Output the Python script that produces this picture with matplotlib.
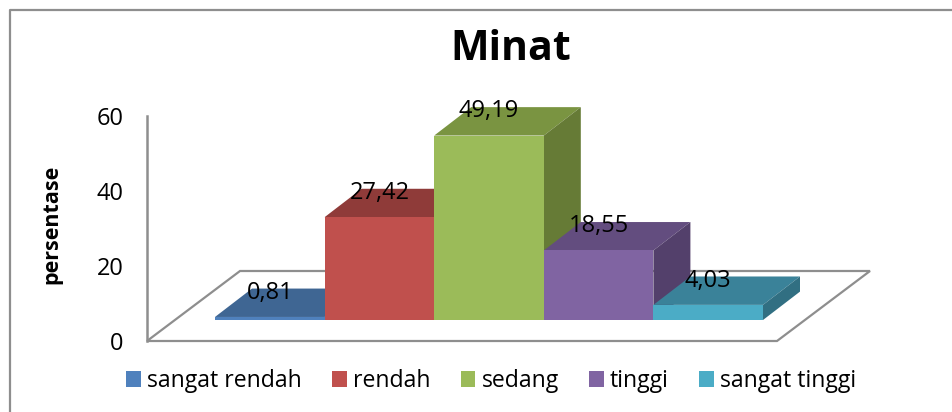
import numpy as np
import matplotlib.pyplot as plt
from matplotlib.lines import Line2D
from matplotlib.patches import Patch, Polygon

CATEGORIES = ["sangat rendah", "rendah", "sedang", "tinggi", "sangat tinggi"]
VALUES = [0.81, 27.42, 49.19, 18.55, 4.03]
VALUE_LABELS = ["0,81", "27,42", "49,19", "18,55", "4,03"]
Y_TICKS = [0, 20, 40, 60]

FRONT = ["#4F81BD", "#C0504D", "#9BBB59", "#8064A2", "#4BACC6"]
TOP = ["#3F6693", "#8F3B39", "#7A9441", "#634D7F", "#3A8299"]
SIDE = ["#35567C", "#7A3230", "#667B36", "#53406B", "#316F82"]
GREY = "#8E8E8E"

W, H = 952, 412
plt.rcParams["font.family"] = ["Open Sans", "DejaVu Sans"]

fig = plt.figure(figsize=(W / 100, H / 100), dpi=100)

# axes box in pixels: value axis runs 116..341, floor runs to x=870
ax = fig.add_axes([147 / W, 1 - 341 / H, (870 - 147) / W, 225 / H])
ax.set_xlim((147 - 215) / 109.6, (870 - 215) / 109.6)
ax.set_ylim(0, 60)

# fake 3d offsets, in data units
depth_x = 37 / 109.6
depth_y = 28.4 / 3.75
base = 21 / 3.75
floor_dx = 93 / 109.6
floor_dy = 70 / 3.75

x0 = ax.get_xlim()[0]
x1 = (777 - 215) / 109.6
floor = Polygon(
    [(x0, 0), (x0 + floor_dx, floor_dy), (x1 + floor_dx, floor_dy), (x1, 0)],
    closed=True, facecolor="white", edgecolor=GREY, linewidth=1.6, clip_on=False,
)
ax.add_patch(floor)

for i, v in enumerate(VALUES):
    left, right = i, i + 1
    low, high = base, base + v

    top = [(left, high), (right, high), (right + depth_x, high + depth_y), (left + depth_x, high + depth_y)]
    side = [(right, low), (right + depth_x, low + depth_y), (right + depth_x, high + depth_y), (right, high)]

    ax.add_patch(Polygon(top, closed=True, facecolor=TOP[i], edgecolor="none", clip_on=False))
    ax.add_patch(Polygon(side, closed=True, facecolor=SIDE[i], edgecolor="none", clip_on=False))
    ax.bar(left, v, width=1, bottom=base, align="edge", color=FRONT[i], clip_on=False)

for i, v in enumerate(VALUES):
    ax.text(i + 0.5, base + v + depth_y - 1.1, VALUE_LABELS[i], ha="center", va="center",
            fontsize=17, color="black", clip_on=False)

for s in ["top", "right"]:
    ax.spines[s].set_visible(False)
ax.spines["left"].set_color(GREY)
ax.spines["left"].set_linewidth(1.8)
ax.spines["bottom"].set_visible(False)
ax.patch.set_alpha(0)

ax.set_xticks([])
ax.set_yticks(Y_TICKS)
ax.tick_params(axis="y", length=0, pad=17, labelsize=17)

fig.text(511 / W, 1 - 49 / H, "Minat", ha="center", va="center", fontsize=29.5, fontweight="bold")
fig.text(52 / W, 1 - 224 / H, "persentase", rotation=90, ha="center", va="center",
         fontsize=15.5, fontweight="bold")

# chart frame, only top and left show
fig.add_artist(Line2D([10 / W, 10 / W, 1], [0, 1 - 10 / H, 1 - 10 / H], color=GREY, linewidth=1.6))

handles = [Patch(facecolor=c, edgecolor="none") for c in FRONT]
fig.legend(
    handles, CATEGORIES, loc="center", bbox_to_anchor=(491 / W, 1 - 381 / H), ncol=5,
    frameon=False, fontsize=16.6, handlelength=0.65, handleheight=0.65, handletextpad=0.26,
    columnspacing=1.3, borderpad=0,
)

fig.savefig("out.png", dpi=100)
